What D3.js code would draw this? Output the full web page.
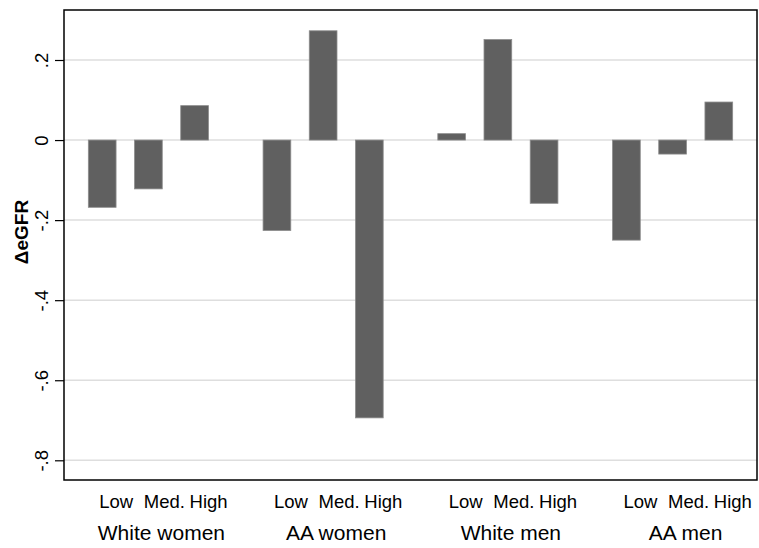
<!DOCTYPE html>
<html lang="en">
<head>
    <meta charset="utf-8">
    <title>eGFR change</title>
    <script src="https://d3js.org/d3.v7.min.js" charset="utf-8"></script>
    <style>
        body { margin: 0; background: #fff; }
        text { font-family: "Liberation Sans", Arial, sans-serif; fill: #000; }
    </style>
</head>
<body>

    <script>

    // groups along the x axis and the three levels inside each
    var groups = ["White women", "AA women", "White men", "AA men"]
    var levels = ["Low", "Med.", "High"]

    // change in eGFR, one array per group (Low, Med., High)
    var whiteWomen = [-0.168, -0.122, 0.086]
    var aaWomen = [-0.226, 0.273, -0.694]
    var whiteMen = [0.016, 0.251, -0.158]
    var aaMen = [-0.250, -0.035, 0.095]

    var yTicks = [0.2, 0, -0.2, -0.4, -0.6, -0.8]
    var yTickLabels = [".2", "0", "-.2", "-.4", "-.6", "-.8"]

    var seriesByGroup = [whiteWomen, aaWomen, whiteMen, aaMen]

    var w = 759, h = 548
    var plotLeft = 64, plotRight = 757, plotTop = 10, plotBottom = 480

    var svg = d3.select("body").append("svg").attr("width", w).attr("height", h)

    var y = d3.scaleLinear().domain([-0.8, 0.2]).range([460.3, 60])

    var gx = d3.scalePoint().domain(groups).range([plotLeft, plotRight]).padding(0.483)
    var bx = d3.scaleBand().domain(levels).range([-69.3, 69.3]).paddingInner(0.4).paddingOuter(0.2)

    // grid lines
    svg.append("g").selectAll("line").data(yTicks).enter().append("line")
        .attr("x1", plotLeft).attr("x2", plotRight)
        .attr("y1", function (d) { return y(d) }).attr("y2", function (d) { return y(d) })
        .attr("stroke", "#dedede").attr("stroke-width", 1.5)

    // bars
    var data = []
    groups.forEach(function (g, i) {
        levels.forEach(function (l, j) {
            data.push({group: g, level: l, value: seriesByGroup[i][j]})
        })
    })

    svg.append("g").selectAll("rect").data(data).enter().append("rect")
        .attr("x", function (d) { return gx(d.group) + bx(d.level) })
        .attr("width", bx.bandwidth())
        .attr("y", function (d) { return y(Math.max(0, d.value)) })
        .attr("height", function (d) { return Math.abs(y(d.value) - y(0)) })
        .attr("fill", "#606060").attr("stroke", "#8c8c8c").attr("stroke-width", 0.8)

    // frame
    svg.append("rect").attr("x", plotLeft).attr("y", plotTop)
        .attr("width", plotRight - plotLeft).attr("height", plotBottom - plotTop)
        .attr("fill", "none").attr("stroke", "#000").attr("stroke-width", 1.5)

    // y axis ticks and labels, rotated like Stata
    var yAxis = d3.axisLeft(y).tickValues(yTicks).tickSize(9).tickPadding(0)
        .tickFormat(function (d, i) { return yTickLabels[i] })
    var ya = svg.append("g").attr("transform", "translate(" + plotLeft + ",0)").call(yAxis)
    ya.attr("font-size", null).attr("font-family", null)
    ya.select(".domain").remove()
    ya.selectAll(".tick line").attr("stroke", "#000").attr("stroke-width", 1.2)
    ya.selectAll(".tick text")
        .attr("x", null).attr("dy", null)
        .attr("transform", "translate(-16,0) rotate(-90)")
        .attr("text-anchor", "middle")
        .style("font-size", "18.5px")
        .attr("fill", "#000")

    svg.append("text")
        .attr("transform", "translate(28,232) rotate(-90)")
        .attr("text-anchor", "middle")
        .style("font-size", "19px").style("font-weight", "bold")
        .text("\u0394eGFR")

    // level labels under the bars
    var labelShift = {"Low": 14, "Med.": 16, "High": 14}
    svg.append("g").selectAll("text").data(data).enter().append("text")
        .attr("x", function (d) { return gx(d.group) + bx(d.level) + bx.bandwidth() / 2 + labelShift[d.level] })
        .attr("y", 508)
        .attr("text-anchor", "middle")
        .style("font-size", "18.5px")
        .text(function (d) { return d.level })

    // group labels
    svg.append("g").selectAll("text").data(groups).enter().append("text")
        .attr("x", function (d) { return gx(d) + 13 })
        .attr("y", 540)
        .attr("text-anchor", "middle")
        .style("font-size", "21px")
        .text(function (d) { return d })

    </script>

</body>
</html>
